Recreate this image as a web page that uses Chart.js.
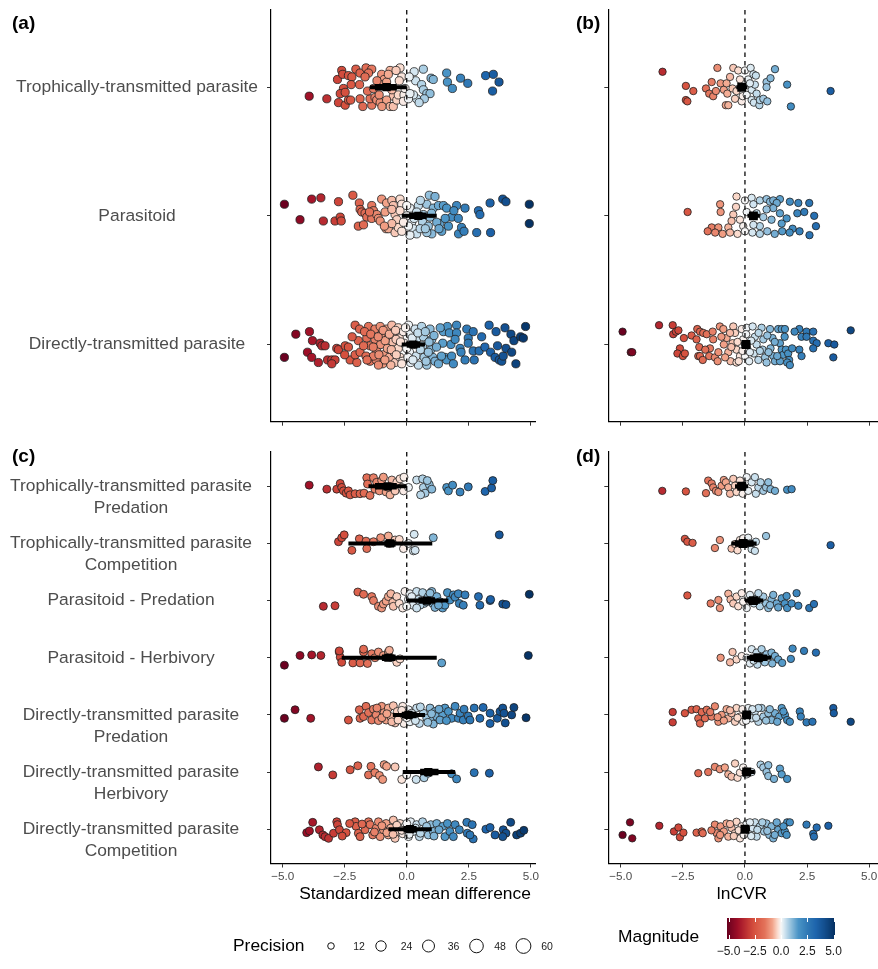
<!DOCTYPE html>
<html>
<head>
<meta charset="utf-8">
<script src="https://cdn.jsdelivr.net/npm/chart.js@4.4.1/dist/chart.umd.min.js"></script>
<style>
  body { margin: 0; background: #fff; width: 878px; height: 969px; overflow: hidden; position: relative;
         font-family: "Liberation Sans", Arial, sans-serif; }
  canvas { position: absolute; }
  .t { position: absolute; white-space: nowrap; line-height: 1; }
  .c { transform: translate(-50%, -50%); }
  .l { transform: translate(0, -50%); }
  .tag { font-weight: bold; font-size: 19px; color: #000; }
  .title { font-size: 17.4px; color: #000; }
  .small { font-size: 10.5px; color: #1a1a1a; }
  .bar { font-size: 12px; color: #1a1a1a; }
</style>
</head>
<body>
<canvas id="pa" width="560" height="440" style="left:0;top:0"></canvas>
<canvas id="pb" width="318" height="440" style="left:560px;top:0"></canvas>
<canvas id="pc" width="560" height="465" style="left:0;top:440px"></canvas>
<canvas id="pd" width="318" height="465" style="left:560px;top:440px"></canvas>
<canvas id="lg" width="878" height="69" style="left:0;top:900px"></canvas>

<div class="t l tag" style="left:12px;top:22px">(a)</div>
<div class="t l tag" style="left:576px;top:22px">(b)</div>
<div class="t l tag" style="left:12px;top:455px">(c)</div>
<div class="t l tag" style="left:576px;top:455px">(d)</div>
<div class="t c title" style="left:415px;top:894px">Standardized mean difference</div>
<div class="t c title" style="left:742px;top:894px">lnCVR</div>
<div class="t l title" style="left:233px;top:946px">Precision</div>
<div class="t l title" style="left:618px;top:937px">Magnitude</div>
<div id="legendText"></div>

<script>
// categories and ticks
const catsTop = ['Trophically-transmitted parasite', 'Parasitoid', 'Directly-transmitted parasite'];
const catsBottom = [
  ['Trophically-transmitted parasite', 'Predation'],
  ['Trophically-transmitted parasite', 'Competition'],
  'Parasitoid - Predation',
  'Parasitoid - Herbivory',
  ['Directly-transmitted parasite', 'Predation'],
  ['Directly-transmitted parasite', 'Herbivory'],
  ['Directly-transmitted parasite', 'Competition']
];
const xTicks = [-5, -2.5, 0, 2.5, 5];
const precisionBreaks = [12, 24, 36, 48, 60];
const magnitudeBreaks = [-5, -2.5, 0, 2.5, 5];

// effect sizes: [value, jitter]
const tropA = [[-3.93,.07],[-3.22,.09],[-2.75,.12],[-2.48,.14],[-2.35,.10],[-2.26,.10],[-1.88,.09],[-2.62,-.13],[-2.05,-.14],[-1.88,-.11],[-1.64,-.15],[-1.41,-.14],[-1.54,-.11],[-1.68,-.08],[-2.79,-.06],[-2.58,-.10],[-2.35,-.09],[-2.21,-.08],[-2.24,-.02],[-2.55,.01],[-2.68,.05],[-2.48,.04],[-1.77,.15],[-1.41,.14],[-1.48,.09],[-1.58,.03],[-1.28,.08],[-1.21,.10],[-1.07,.12],[-1.11,.06],[-1.01,-.10],[-.91,-.06],[-.97,-.02],[-.81,-.04],[-.67,-.13],[-.74,-.10],[-.27,-.15],[-.43,-.13],[-.20,-.08],[-.54,.07],[-.81,.10],[-.67,.15],[-.54,.15],[-.40,.10],[-.34,.06],[-.11,.06],[-.13,.11],[-.07,.01],[.30,-.12],[.67,-.14],[.36,-.05],[.60,-.02],[.67,.02],[.81,.05],[.94,.05],[.40,.09],[.27,.06],[.71,.09],[.98,-.07],[1.07,-.06],[1.61,-.11],[1.64,-.04],[1.84,.01],[2.17,-.07],[2.46,-.03],[3.18,-.09],[3.49,-.10],[3.72,-.04],[3.46,.03],[.07,.09],[.13,.05],[-1.34,.01],[-1.9,-.02],[-1.2,-.05],[-.6,.02],[-.3,-.05],[.1,-.08],[-1.0,.15],[.5,.12]];
const paraA = [[-4.93,-.09],[-4.30,.03],[-3.83,-.13],[-3.46,-.14],[-3.36,.04],[-2.89,.04],[-2.68,.01],[-2.64,.04],[-2.75,-.11],[-2.17,-.16],[-1.91,-.10],[-1.88,-.05],[-1.81,-.03],[-1.68,-.02],[-1.61,.01],[-1.95,.08],[-1.74,.07],[-1.41,-.08],[-1.34,-.04],[-1.41,.02],[-1.21,-.01],[-1.14,.02],[-1.01,-.13],[-.87,-.03],[-.81,-.10],[-.83,.10],[-.74,.10],[-.60,-.12],[-.54,-.08],[-.47,-.01],[-.40,.03],[-.47,.13],[-.34,.09],[-.27,-.13],[-.20,-.09],[-.27,-.04],[.13,-.06],[.20,.05],[.27,.10],[.40,.14],[.47,-.08],[.64,.05],[.81,-.09],[.91,-.16],[1.14,-.15],[.87,.08],[1.01,.14],[1.07,-.06],[1.28,-.08],[1.34,.06],[1.41,.12],[1.48,-.08],[1.61,-.06],[1.68,.08],[1.81,.01],[2.01,-.08],[2.08,.02],[2.09,.14],[2.21,.09],[2.31,.12],[2.35,-.06],[2.89,-.04],[2.95,-.01],[2.82,.13],[3.36,-.10],[3.38,.13],[3.87,-.13],[4.00,-.11],[4.94,-.09],[4.94,.06],[0,0],[.07,.08],[-.13,.05],[.40,-.03],[.67,-.01],[.94,.01],[1.21,.05],[.54,.10],[.81,.13],[-.60,.06],[-1.07,.04],[.13,.15],[-.9,.08],[-.6,-.05],[-.2,.12],[0,-.08],[.3,.02],[.55,-.12],[.75,.1],[1.0,-.02],[1.3,.1],[1.55,.02],[1.9,-.04],[-1.5,-.03]];
const dirA = [[-4.93,.10],[-4.47,-.08],[-3.92,-.10],[-3.80,-.03],[-4.00,.06],[-3.83,.10],[-3.56,.14],[-3.49,-.01],[-3.42,.01],[-3.29,.01],[-3.19,.12],[-3.02,.12],[-2.89,.12],[-3.02,.15],[-2.82,.03],[-2.75,.04],[-2.48,.01],[-2.35,.02],[-2.28,.12],[-2.08,-.15],[-2.01,.14],[-2.08,.08],[-1.95,-.03],[-1.88,.06],[-1.54,-.14],[-1.61,-.05],[-1.48,.01],[-1.64,.09],[-1.48,.13],[-1.28,-.12],[-1.28,-.04],[-1.21,.05],[-1.23,.12],[-1.07,-.14],[-1.01,-.08],[-1.05,0],[-.94,.08],[-.97,.15],[-.81,-.12],[-.74,-.05],[-.78,.03],[-.70,.10],[-.60,-.15],[-.54,-.09],[-.56,-.02],[-.51,.06],[-.47,.14],[-.34,-.13],[-.30,-.05],[-.34,.03],[-.27,.10],[-.13,-.10],[-.11,-.01],[-.16,.13],[-1.74,.01],[-1.34,.09],[-1.14,.16],[-.87,-.03],[-.43,-.04],[-.64,.16],[.07,-.15],[.13,-.08],[.11,.06],[.16,.14],[.34,-.12],[.40,-.04],[.38,.09],[.47,.16],[.60,-.14],[.67,-.06],[.64,.01],[.70,.10],[.81,.16],[.94,-.12],[1.01,-.04],[.97,.04],[1.05,.10],[1.14,.13],[1.28,.15],[.87,.06],[0,.03],[.27,0],[1.48,-.10],[1.64,-.14],[1.72,-.09],[1.78,0],[1.45,-.01],[1.54,.10],[1.61,.12],[1.81,.09],[1.88,.15],[2.01,-.15],[2.01,-.09],[2.15,.03],[2.19,.06],[2.42,-.12],[2.48,-.05],[2.48,-.01],[2.68,-.10],[2.68,.05],[2.72,.12],[2.92,.05],[3.02,-.06],[3.15,.02],[3.32,-.15],[3.38,.06],[3.60,-.10],[3.66,.01],[3.56,.10],[3.73,.12],[3.83,.13],[3.89,.09],[3.96,-.13],[4.00,.03],[4.20,-.08],[4.23,.06],[4.32,-.03],[4.40,.15],[4.59,-.06],[4.70,-.05],[4.79,-.14],[2.35,.12],[1.95,-.04],[-1.9,-.12],[-1.7,-.10],[-1.6,.12],[-1.45,-.08],[-1.35,.02],[-1.15,-.06],[-1.12,.08],[-.95,-.11],[-.88,.12],[-.7,-.08],[-.62,.04],[-.45,-.11],[-.42,.08],[-.25,-.02],[-.2,.15],[-.05,-.13],[.05,.10],[.22,-.05],[.25,.12],[.45,-.09],[.55,.04],[.75,-.10],[.78,.13],[.9,-.02],[1.1,-.07],[1.2,.02],[1.35,-.13],[1.4,.09],[-2.2,-.06],[-2.5,.08]];

const tropB = [[-3.32,-.12],[-2.38,-.01],[-2.08,.03],[-2.38,.10],[-2.32,.11],[-1.57,.01],[-1.34,-.04],[-1.44,.05],[-1.28,.07],[-1.17,.03],[-1.11,-.15],[-.98,-.03],[-.85,.02],[-.74,-.03],[-.77,.14],[-.67,.14],[-.71,.05],[-.60,-.08],[-.47,-.15],[-.50,.01],[-.40,.09],[-.34,.03],[-.27,-.13],[-.20,-.06],[-.13,.11],[-.09,.07],[0,-.13],[.07,.06],[.13,-.06],[.23,-.15],[.34,-.10],[.44,-.09],[.27,.02],[.40,-.02],[.47,.05],[.27,.10],[.36,.12],[.58,.14],[.60,.10],[.74,.09],[.90,.11],[.87,-.04],[.87,0],[1.03,-.07],[1.21,-.14],[.20,-.03],[1.70,-.02],[1.85,.15],[3.45,.03]];
const paraB = [[-2.31,-.03],[-1.0,-.09],[-.98,-.03],[-1.34,.09],[-1.07,.09],[-.67,.09],[-.34,-.15],[-.36,-.07],[-.47,-.01],[-.20,.03],[0,-.12],[.07,-.03],[.27,-.14],[.34,-.09],[.60,-.12],[.87,-.13],[1.01,-.11],[1.14,-.12],[1.41,-.13],[1.28,-.10],[1.81,-.11],[2.15,-.10],[2.59,-.10],[2.11,-.02],[2.39,-.03],[2.79,0],[2.86,.08],[1.92,.10],[1.14,-.06],[1.41,-.02],[1.68,.02],[.87,-.05],[.74,.01],[.47,-.02],[1.07,.03],[1.48,.06],[.60,.08],[.34,.07],[-.07,.08],[-.54,.04],[-1.5,.12],[-1.2,.13],[-.9,.14],[-.6,.13],[-.3,.14],[0,.12],[.3,.13],[.6,.14],[.9,.12],[1.2,.14],[1.5,.12],[1.8,.13],[2.2,.12],[2.6,.15]];
const dirB = [[-4.93,-.10],[-4.60,.06],[-4.54,.06],[-3.46,-.15],[-2.91,-.15],[-2.89,-.08],[-2.78,-.10],[-2.68,-.11],[-2.46,-.05],[-2.62,.03],[-2.72,.07],[-2.50,.09],[-2.42,.07],[-2.15,-.07],[-1.92,-.12],[-1.81,-.10],[-1.68,-.09],[-1.54,-.08],[-1.95,-.04],[-1.84,.02],[-1.88,.09],[-1.81,.09],[-1.70,.12],[-1.41,.03],[-1.44,.09],[-1.21,.10],[-1.28,-.04],[-1.07,.06],[-1.01,-.14],[-.87,-.12],[-.74,-.05],[-.85,0],[-.67,.06],[-.58,.13],[-.47,-.14],[-.40,-.09],[-.50,-.01],[-.34,.04],[-.34,.14],[-.20,.09],[-.13,-.12],[-.07,-.04],[0,.09],[.07,-.13],[.09,.03],[.17,.13],[.31,-.14],[.40,-.06],[.47,0],[.36,.07],[.54,.12],[.67,-.13],[.74,-.04],[.71,.04],[.81,.10],[.87,.14],[1.01,-.12],[1.11,-.05],[1.03,.03],[1.14,.09],[1.21,.13],[1.34,-.12],[1.48,-.12],[1.61,-.12],[1.41,-.01],[1.48,.04],[1.54,.08],[1.65,.04],[1.74,.07],[1.78,.12],[1.70,.14],[1.81,.16],[1.41,.13],[2.19,-.12],[2.28,-.06],[2.48,-.10],[2.48,-.06],[2.75,-.10],[2.75,-.03],[2.89,-.01],[2.75,.03],[2.19,.04],[2.28,.09],[3.36,-.01],[3.60,0],[3.56,.10],[4.26,-.11],[-1.6,.04],[-1.3,-.10],[-1.1,.13],[-.95,-.06],[-.8,.10],[-.6,-.09],[-.55,.02],[-.3,-.02],[-.25,.13],[-.1,.05],[.05,-.08],[.2,.06],[.25,-.03],[.55,-.09],[.6,.05],[.9,-.07],[.95,.06],[1.2,-.02],[1.3,.09],[1.6,-.06],[1.9,.03],[2.0,-.1]];

const tropPredC = [[-3.93,-.02],[-3.22,.05],[-2.82,.05],[-2.68,-.05],[-2.62,.02],[-2.55,.08],[-2.44,.12],[-2.35,.08],[-2.28,.15],[-2.08,.13],[-1.88,.13],[-1.72,.12],[-1.61,-.15],[-1.58,-.04],[-1.48,.16],[-1.34,-.15],[-1.28,.05],[-1.21,-.07],[-1.10,.08],[-1.01,-.10],[-.94,-.16],[-.83,.10],[-.74,.02],[-.67,.15],[-.60,-.11],[-.47,.08],[-.40,-.07],[-.27,-.13],[-.20,.02],[-.11,-.16],[-.13,.08],[.07,.02],[.40,-.11],[.64,-.13],[.67,.02],[.74,.12],[.56,.15],[.91,-.03],[1.01,.05],[.83,-.10],[1.61,.02],[1.68,.08],[1.85,-.02],[2.15,.10],[2.48,.01],[3.16,.09],[3.42,.03],[3.47,-.10]];
const tropCompC = [[-2.75,-.03],[-2.62,-.10],[-2.52,-.15],[-2.21,.12],[-1.91,-.08],[-1.64,-.04],[-1.61,.09],[-1.34,-.03],[-1.05,-.10],[-.74,-.13],[-.70,0],[-.47,-.06],[-.30,-.07],[-.13,.09],[.07,0],[.30,-.16],[.27,.13],[.34,.12],[1.07,-.10],[3.73,-.15]];
const paraPredC = [[-3.36,.10],[-2.89,.09],[-1.97,-.15],[-1.74,-.11],[-1.41,-.07],[-1.34,0],[-1.14,.10],[-1.01,.13],[-.94,.06],[-.83,.01],[-.74,-.07],[-.64,-.12],[-.56,.03],[-.54,.10],[-.40,-.07],[-.30,.05],[-.16,.13],[-.07,-.16],[.07,-.02],[.13,-.12],[.24,.08],[.40,-.16],[.47,-.02],[.64,-.14],[.70,.05],[.87,-.07],[1.01,-.16],[1.05,.05],[1.14,.12],[1.21,-.07],[1.34,.02],[1.45,.13],[1.54,.08],[1.64,-.14],[1.74,-.01],[1.88,-.10],[1.95,-.06],[2.08,-.12],[2.12,.05],[2.28,.08],[2.35,-.10],[2.89,-.07],[2.95,.08],[3.36,0],[3.38,-.02],[3.87,.06],[4.00,.07],[4.94,-.11],[.20,-.07],[.54,.08],[.81,.02],[.94,-.13],[1.28,.08],[.40,.13],[0,.10]];
const paraHerbC = [[-4.93,.13],[-4.30,-.04],[-3.83,-.05],[-3.46,-.04],[-2.72,-.10],[-2.68,-.01],[-2.62,.08],[-2.17,.09],[-1.88,.09],[-1.74,-.10],[-1.58,.10],[-1.41,-.07],[-1.28,0],[-1.14,-.10],[-.94,-.04],[-.74,-.10],[-.67,-.01],[-.40,.08],[-.27,.02],[1.41,.09],[4.90,-.04],[-2.72,-.12],[-1.74,-.15],[-.70,-.13]];
const dirPredC = [[-4.93,.06],[-4.50,-.09],[-3.87,.06],[-2.35,.09],[-1.91,-.09],[-1.88,.06],[-1.74,.03],[-1.64,-.15],[-1.54,-.04],[-1.41,.09],[-1.34,-.10],[-1.23,0],[-1.14,.10],[-1.01,-.15],[-.91,-.04],[-.83,.09],[-.74,-.12],[-.64,.03],[-.54,-.16],[-.47,.14],[-.38,-.06],[-.27,.06],[-.16,-.15],[-.11,.15],[.07,-.09],[.13,.12],[.27,.03],[.40,-.12],[.51,.15],[.67,-.03],[.81,.06],[.94,-.12],[1.05,.09],[1.14,-.06],[1.21,.03],[1.07,.16],[1.45,0],[1.54,-.12],[1.68,-.06],[1.81,.06],[1.95,-.15],[2.08,.06],[2.15,-.03],[2.28,.09],[2.31,-.10],[2.48,.02],[2.55,.09],[2.72,-.12],[2.95,.06],[3.08,-.13],[3.36,-.03],[3.36,.15],[3.65,.06],[3.76,-.06],[3.87,-.12],[3.92,-.03],[3.97,.14],[4.23,0],[4.32,-.13],[4.81,.05],[1.34,.09],[-1.2,-.12],[-1.0,.05],[-.8,-.02],[-.6,.12],[-.35,.09],[-.2,-.08],[0,.05],[.2,-.03],[.35,.1],[.55,-.14],[.85,.13],[1.0,-.02],[1.3,-.1],[1.6,.1]];
const dirHerbC = [[-3.56,-.09],[-2.98,.05],[-2.28,-.04],[-1.97,-.11],[-1.54,.05],[-1.44,-.10],[-1.28,.01],[-1.10,.06],[-.97,.13],[-.91,-.13],[-.81,-.10],[-.47,-.09],[-.20,.13],[0,.05],[.38,.13],[.70,.10],[.87,.02],[1.81,.03],[2.01,.12],[2.72,.01],[3.33,.02]];
const dirCompC = [[-4.03,.06],[-3.92,.03],[-3.79,-.12],[-3.52,.01],[-3.38,.10],[-3.29,.13],[-3.15,.16],[-2.82,-.13],[-2.79,-.08],[-2.95,.07],[-2.71,.01],[-2.44,.06],[-2.08,-.13],[-2.04,-.05],[-1.95,.07],[-1.88,.13],[-1.68,.01],[-1.54,-.13],[-1.48,-.08],[-1.37,.10],[-1.23,-.02],[-1.14,-.13],[-1.07,.13],[-.94,.01],[-.83,-.10],[-.74,.10],[-.64,-.02],[-.54,-.16],[-.47,.16],[-.38,.04],[-.27,-.10],[-.16,.08],[-.07,-.05],[.07,.13],[.16,-.13],[.27,.04],[.40,-.08],[.51,.13],[.64,-.13],[.74,.01],[.87,.10],[.97,-.08],[1.07,.04],[1.21,-.10],[1.45,-.05],[1.54,.13],[1.64,-.10],[1.74,.04],[1.88,.13],[1.95,-.08],[2.12,.01],[2.42,-.12],[2.44,.07],[2.64,-.08],[2.68,.17],[2.55,.10],[3.19,0],[3.36,-.03],[3.56,.10],[3.89,.01],[4.00,.07],[4.19,-.12],[4.43,.10],[4.59,.07],[4.72,.02],[3.87,.13],[-1.8,-.09],[-1.3,.05],[-1.0,-.06],[-.8,.06],[-.55,.09],[-.4,-.07],[-.2,.02],[0,-.1],[.1,.09],[.35,-.02],[.55,.07],[.8,-.05],[1.1,.12],[1.3,.01],[-2.3,-.1],[-2.6,.12]];

const tropPredD = [[-3.33,.08],[-2.38,.09],[-1.57,.12],[-1.48,-.10],[-1.34,-.05],[-1.28,.02],[-1.17,.08],[-1.07,.10],[-.94,-.01],[-.85,-.11],[-.77,-.07],[-.67,.02],[-.60,.13],[-.47,-.13],[-.40,-.01],[-.34,.10],[-.20,-.10],[-.09,.13],[.07,-.16],[.13,.08],[.27,-.07],[.40,-.16],[.44,.13],[.54,.02],[.63,-.07],[.74,.08],[.85,.02],[.94,-.07],[1.03,.05],[1.21,.08],[1.70,.06],[1.88,.05]];
const tropCompD = [[-2.42,-.08],[-2.32,-.03],[-2.11,-.01],[-1.21,.08],[-1.01,-.06],[-.54,.09],[-.40,.01],[-.30,.12],[-.20,-.06],[-.07,-.09],[.13,-.10],[.20,0],[.27,.10],[.40,.13],[.44,-.03],[.85,-.13],[3.45,.03]];
const paraPredD = [[-2.32,-.09],[-1.38,.05],[-1.07,-.01],[-1.01,.13],[-.67,-.12],[-.58,-.02],[-.47,.05],[-.34,-.07],[-.27,.10],[-.13,-.13],[-.07,.02],[.07,.13],[.20,-.10],[.36,.05],[.47,-.04],[.60,.10],[.74,-.07],[.85,.05],[.94,.13],[1.07,-.02],[1.14,-.10],[1.28,.05],[1.34,.12],[1.48,-.04],[1.61,.05],[1.68,-.08],[1.70,.13],[1.88,.05],[2.08,-.13],[2.15,.09],[2.59,.13],[2.78,.06],[1.01,.08],[.54,-.13]];
const paraHerbD = [[-.98,0],[-.50,-.10],[-.34,.03],[-.13,-.03],[.07,0],[.27,-.15],[.47,-.09],[.67,-.15],[.87,-.06],[1.07,-.09],[1.21,-.03],[1.34,.03],[1.85,.02],[1.92,-.16],[2.38,-.12],[2.86,-.09],[.2,.10],[.5,.12],[.8,.08],[1.1,.10],[.35,.05],[1.5,.09],[-.6,.08]];
const dirPredD = [[-2.91,-.05],[-2.91,.13],[-2.42,-.03],[-2.15,-.09],[-1.95,-.10],[-1.88,.06],[-1.81,.15],[-1.74,-.05],[-1.61,.06],[-1.54,-.09],[-1.34,.03],[-1.21,-.15],[-1.07,.12],[-.94,0],[-.74,-.10],[-.67,.06],[-.54,-.03],[-.40,.12],[-.34,-.12],[-.20,.03],[-.07,.12],[.13,-.12],[.27,.06],[.40,-.06],[.54,.12],[.67,-.12],[.74,.03],[.94,-.03],[1.07,.09],[1.21,-.03],[1.38,.03],[1.48,-.12],[1.61,0],[1.70,.09],[1.81,.12],[2.21,-.06],[2.25,.03],[2.48,.13],[2.72,.12],[3.56,-.12],[3.58,-.03],[4.26,.12],[.54,-.12],[.07,.03],[-1.4,-.05],[-1.1,.04],[-.85,.1],[-.6,-.08],[-.3,.05],[-.1,-.1],[.05,.1],[.3,-.1],[.45,.05],[.85,.1],[1.0,-.1],[1.3,.12],[1.55,-.06]];
const dirHerbD = [[-1.88,.02],[-1.48,0],[-1.21,-.09],[-1.01,-.05],[-.81,-.08],[-.67,.04],[-.54,.08],[-.40,-.15],[-.30,.10],[-.20,.01],[-.07,-.08],[.07,.04],[.27,0],[.63,-.13],[.74,-.08],[.94,-.12],[.87,0],[.94,.07],[1.17,.12],[1.41,-.06],[1.48,.04],[1.70,.12]];
const dirCompD = [[-4.93,.10],[-4.63,-.12],[-4.54,.16],[-3.45,-.06],[-2.86,.04],[-2.68,-.03],[-2.62,.14],[-2.48,.06],[-1.95,.06],[-1.74,.04],[-1.70,.07],[-1.21,-.08],[-1.14,.07],[-1.07,.16],[-.98,-.05],[-.85,.04],[-.74,-.10],[-.67,.13],[-.54,-.02],[-.40,.07],[-.34,-.13],[-.20,.16],[-.13,-.05],[.07,-.10],[.17,.07],[.31,-.02],[.40,-.12],[.47,.13],[.60,-.05],[.77,.04],[.87,-.10],[.98,.10],[1.07,-.05],[1.14,.16],[1.28,-.12],[1.34,.01],[1.48,.07],[1.61,.04],[1.70,-.12],[1.81,-.12],[1.68,.10],[2.48,-.08],[2.75,.08],[2.78,.13],[2.89,-.03],[3.36,-.06],[-1.35,.02],[-1.0,.1],[-.6,-.09],[-.45,.12],[-.25,.02],[-.05,.1],[.2,-.12],[.25,.12],[.5,.01],[.7,-.12],[.9,.03],[1.2,.1],[1.55,-.05]];

// model estimates: mean, narrow interval, wide interval
const meanA = [-0.81, 0.47, 0.27];
const ciA = [[-1.28, -0.40], [0.10, 0.80], [0.00, 0.54]];
const piA = [[-1.48, 0.00], [-0.20, 1.21], [-0.20, 0.74]];
const meanB = [-0.13, 0.34, 0.04];
const ciB = [[-0.25, 0.00], [0.20, 0.50], [-0.08, 0.16]];
const piB = [[-0.35, 0.10], [0.10, 0.60], [-0.15, 0.22]];
const meanC = [-0.77, -0.67, 0.81, -0.74, 0.07, 0.87, 0.13];
const ciC = [[-1.28, -0.40], [-0.90, -0.45], [0.47, 1.14], [-1.00, -0.45], [-0.20, 0.40], [0.54, 1.28], [-0.13, 0.40]];
const piC = [[-1.54, 0.00], [-2.35, 1.03], [0.00, 1.68], [-2.62, 1.21], [-0.56, 0.74], [-0.16, 1.95], [-0.74, 1.01]];
const meanD = [-0.13, -0.07, 0.34, 0.54, 0.07, 0.07, 0.00];
const ciD = [[-0.30, 0.05], [-0.40, 0.35], [0.10, 0.60], [0.20, 0.90], [-0.05, 0.15], [-0.05, 0.25], [-0.08, 0.12]];
const piD = [[-0.40, 0.13], [-0.54, 0.47], [0.00, 0.74], [0.07, 1.07], [-0.12, 0.20], [-0.13, 0.40], [-0.15, 0.20]];

// magnitude colour ramp (red - white - blue)
const magStops = [-5, -4, -3, -2.5, -1.5, -0.8, -0.3, 0, 0.3, 0.7, 1.6, 2.5, 3.2, 4, 5];
const magHex = ['#67001f','#9e0e27','#c53a36','#d5503e','#e3725a','#f2a48a','#fbdccf','#f7f7f7','#d6e7f1','#a9cde3','#4a94c6','#2f78b5','#1e65ad','#134f8f','#053061'];
const magRgb = magHex.map(h => [1, 3, 5].map(i => parseInt(h.slice(i, i + 2), 16)));
function magColor(v) {
  v = Math.max(-5, Math.min(5, v));
  let i = 0;
  while (i < magStops.length - 2 && v > magStops[i + 1]) i++;
  const f = (v - magStops[i]) / (magStops[i + 1] - magStops[i]);
  const a = magRgb[i], b = magRgb[i + 1];
  return 'rgb(' + a.map((c, k) => Math.round(c + (b[k] - c) * f)).join(',') + ')';
}

const FONT = '"Liberation Sans", Arial, sans-serif';
const fmt = v => (v < 0 ? '\u2212' : '') + Math.abs(v).toFixed(1);

function panel(id, cfg) {
  const n = cfg.groups.length;
  const pts = [], cols = [];
  cfg.groups.forEach((g, gi) => g.forEach(([x, dy]) => {
    pts.push({ x: x, y: gi + 1 + dy });
    cols.push(magColor(x));
  }));

  const datasets = [{
    type: 'scatter', data: pts, backgroundColor: cols, borderColor: '#1f1f1f',
    borderWidth: 0.8, pointRadius: cfg.r, order: 5
  }, {
    type: 'line', data: [{ x: 0, y: 0.4 }, { x: 0, y: n + 0.6 }], showLine: true,
    borderColor: '#1a1a1a', borderWidth: 1.4, borderDash: [4.5, 4], pointRadius: 0, order: 4
  }];
  cfg.pi.forEach(([lo, hi], i) => datasets.push({
    type: 'line', data: [{ x: lo, y: i + 1 }, { x: hi, y: i + 1 }], showLine: true,
    borderColor: '#000', borderWidth: 4, borderCapStyle: 'butt', pointRadius: 0, order: 3
  }));
  cfg.ci.forEach(([lo, hi], i) => datasets.push({
    type: 'line', data: [{ x: lo, y: i + 1 }, { x: hi, y: i + 1 }], showLine: true,
    borderColor: '#000', borderWidth: 6.5, borderCapStyle: 'butt', pointRadius: 0, order: 2
  }));
  datasets.push({
    type: 'scatter', data: cfg.mean.map((m, i) => ({ x: m, y: i + 1 })),
    pointStyle: 'rect', pointRadius: cfg.mr, backgroundColor: '#000', borderWidth: 0, order: 1
  });

  const tickGrid = { display: true, drawOnChartArea: false, drawTicks: true, tickLength: 4, color: '#333', lineWidth: 1 };
  const border = { display: true, color: '#000', width: 1.2 };

  new Chart(document.getElementById(id), {
    type: 'scatter',
    data: { datasets: datasets },
    options: {
      responsive: false, animation: false, events: [],
      layout: { autoPadding: false, padding: { left: 0, right: cfg.padR, top: cfg.padT, bottom: 0 } },
      plugins: { legend: { display: false }, tooltip: { enabled: false } },
      scales: {
        x: {
          type: 'linear', min: cfg.xMin, max: cfg.xMax,
          afterBuildTicks: s => { s.ticks = xTicks.map(v => ({ value: v })); },
          ticks: { display: cfg.xLabels, callback: v => fmt(v), color: '#4d4d4d',
                   font: { family: FONT, size: 11.7 }, padding: 2, maxRotation: 0, autoSkip: false },
          grid: tickGrid, border: border,
          afterFit: s => { s.height = cfg.xH; s.paddingLeft = 0; s.paddingRight = 0; }
        },
        y: {
          type: 'linear', reverse: true, min: 0.4, max: n + 0.6,
          afterBuildTicks: s => { s.ticks = cfg.groups.map((g, i) => ({ value: i + 1 })); },
          ticks: {
            display: !!cfg.cats, autoSkip: false, crossAlign: 'center', padding: cfg.labPad || 0,
            color: '#4d4d4d', font: { family: FONT, size: 17.4, lineHeight: 1.27 },
            callback: v => {
              if (!cfg.cats) return '';
              const c = cfg.cats[Math.round(v) - 1];
              return Array.isArray(c) ? [''].concat(c) : c;
            }
          },
          grid: tickGrid, border: border,
          afterFit: s => { s.width = cfg.yW; s.paddingTop = 0; s.paddingBottom = 0; }
        }
      }
    }
  });
}

panel('pa', { groups: [tropA, paraA, dirA], cats: catsTop, mean: meanA, ci: ciA, pi: piA,
  xMin: -5.47, xMax: 5.17, xLabels: false, xH: 18.3, yW: 271, padT: 10, padR: 25, labPad: 9, r: 4.1, mr: 5.8 });
panel('pb', { groups: [tropB, paraB, dirB], cats: null, mean: meanB, ci: ciB, pi: piB,
  xMin: -5.505, xMax: 5.36, xLabels: false, xH: 18.3, yW: 48.3, padT: 10, padR: 0, r: 3.7, mr: 6.3 });
panel('pc', { groups: [tropPredC, tropCompC, paraPredC, paraHerbC, dirPredC, dirHerbC, dirCompC], cats: catsBottom,
  mean: meanC, ci: ciC, pi: piC, xMin: -5.47, xMax: 5.17, xLabels: true, xH: 41.5, yW: 271, padT: 12, padR: 25, labPad: 15, r: 4.0, mr: 5.8 });
panel('pd', { groups: [tropPredD, tropCompD, paraPredD, paraHerbD, dirPredD, dirHerbD, dirCompD], cats: null,
  mean: meanD, ci: ciD, pi: piD, xMin: -5.505, xMax: 5.36, xLabels: true, xH: 41.5, yW: 48.3, padT: 12, padR: 0, r: 3.7, mr: 6.3 });

// legends
const lg = document.getElementById('lg').getContext('2d');
const circleX = [331, 381, 428.5, 476.5, 523.5];
const circleR = [3.3, 5.2, 6.0, 6.8, 7.4];
const labelX = [359, 406.5, 453.5, 500, 547];
const txt = document.getElementById('legendText');
precisionBreaks.forEach((p, i) => {
  lg.beginPath();
  lg.arc(circleX[i], 46, circleR[i], 0, Math.PI * 2);
  lg.fillStyle = '#fff'; lg.fill();
  lg.lineWidth = 1; lg.strokeStyle = '#111'; lg.stroke();
  txt.insertAdjacentHTML('beforeend', '<div class="t c small" style="left:' + labelX[i] + 'px;top:946px">' + p + '</div>');
});
const barL = 727, barR = 835, barT = 18, barB = 39;
const barPos = v => 728.5 + (v + 5) * 10.5;
for (let x = barL; x < barR; x++) {
  lg.fillStyle = magColor(-5 + (x + 0.5 - barL) / (barR - barL) * 10);
  lg.fillRect(x, barT, 1, barB - barT);
}
lg.strokeStyle = '#fff'; lg.lineWidth = 1;
magnitudeBreaks.forEach(v => {
  const x = Math.round(barPos(v)) + 0.5;
  lg.beginPath();
  lg.moveTo(x, barT); lg.lineTo(x, barT + 4);
  lg.moveTo(x, barB - 4); lg.lineTo(x, barB);
  lg.stroke();
  txt.insertAdjacentHTML('beforeend', '<div class="t c bar" style="left:' + barPos(v) + 'px;top:951px">' + fmt(v) + '</div>');
});
</script>
</body>
</html>
